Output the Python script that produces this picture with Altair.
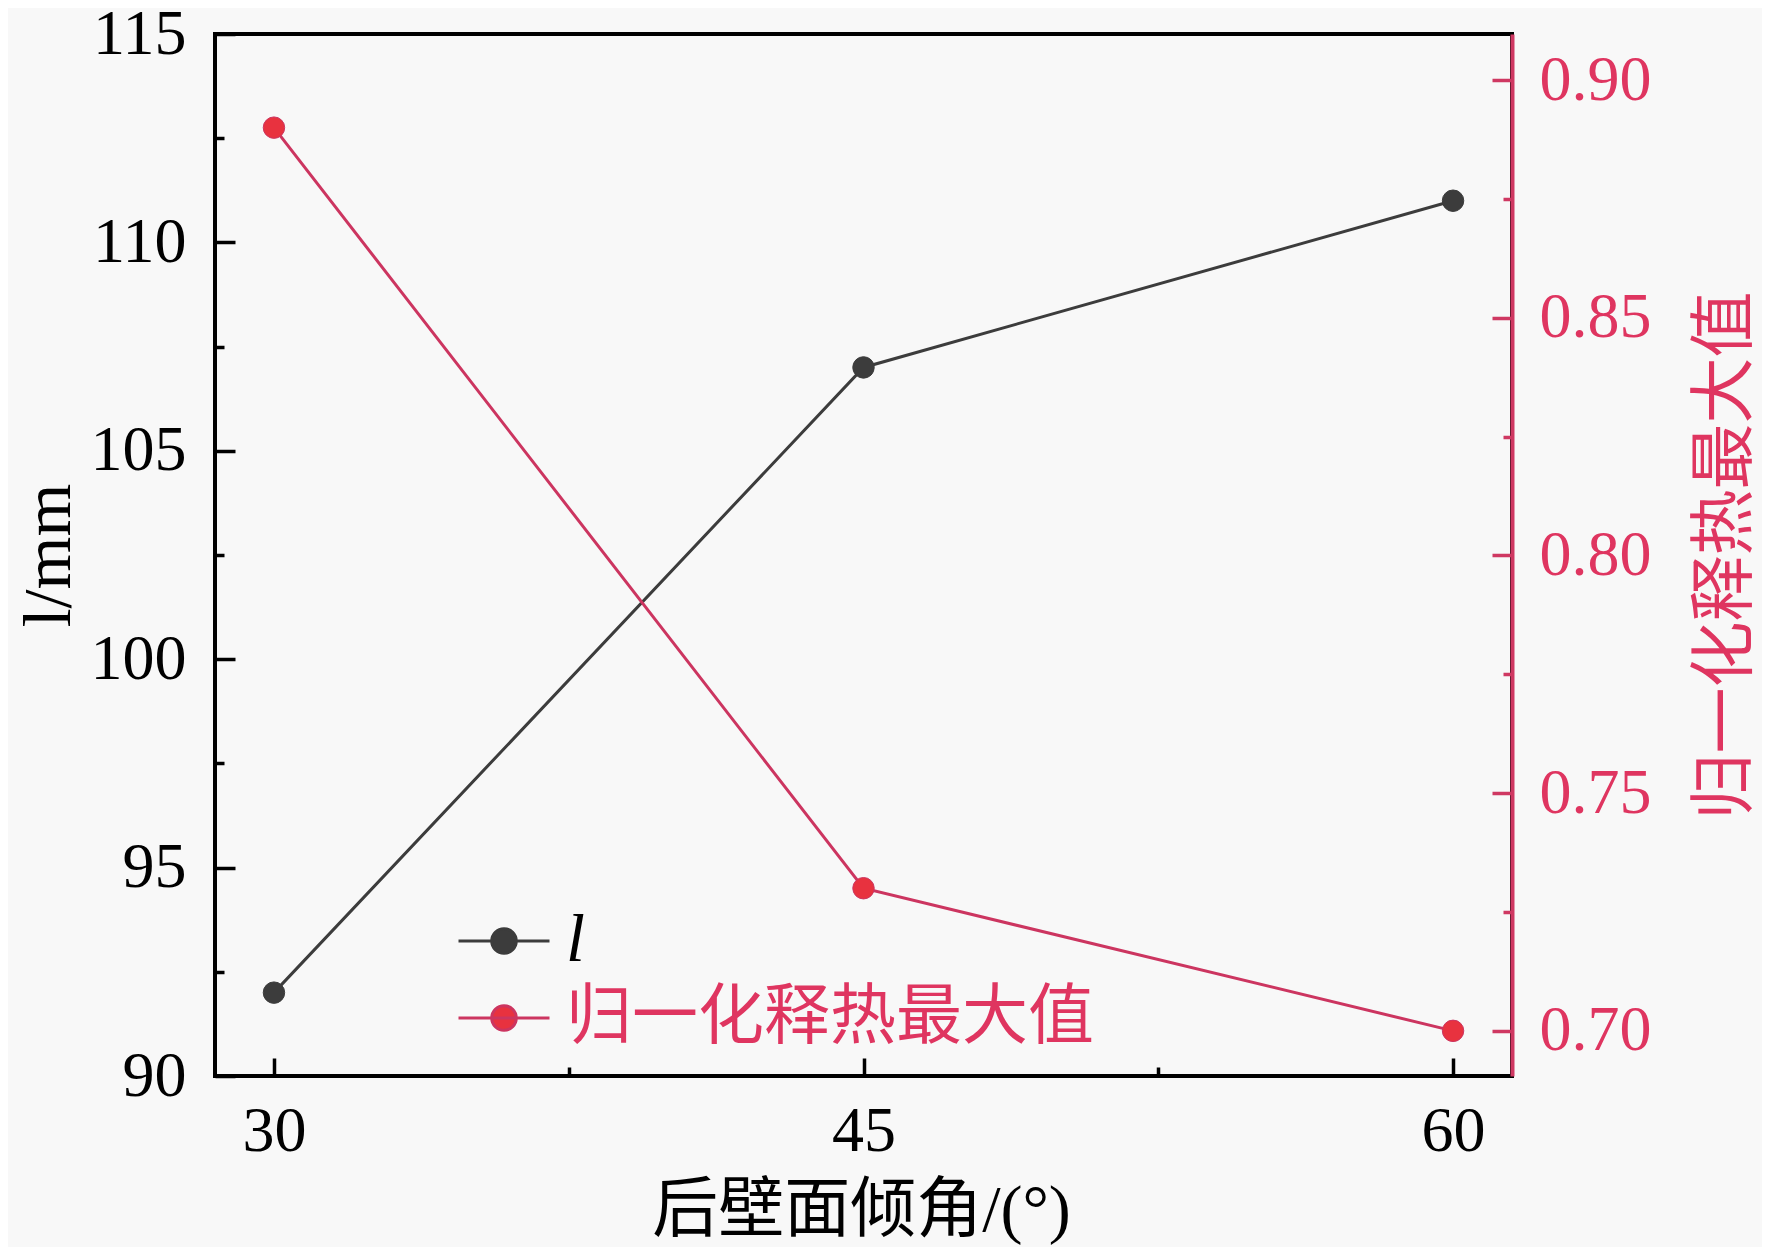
import altair as alt
import pandas as pd

# ---- data ----
angles = [30, 45, 60]
l_values = [92, 107, 111]
heat_values = [0.89, 0.73, 0.70]
l_name = "l"
heat_name = "归一化释热最大值"

x_major = [30, 45, 60]
x_minor = [37.5, 52.5]
yl_major = [90, 95, 100, 105, 110, 115]
yl_minor = [92.5, 97.5, 102.5, 107.5, 112.5]
yr_major = [0.70, 0.75, 0.80, 0.85, 0.90]
yr_minor = [0.725, 0.775, 0.825, 0.875]

x_domain = [28.5, 61.5]
yl_domain = [90, 115]
yr_domain = [0.6905, 0.9097]

x_title = "后壁面倾角/(°)"
yl_title = "l/mm"

df = pd.DataFrame({
    "angle": angles,
    "l": l_values,
    "heat": heat_values,
    "s_l": [l_name] * len(angles),
    "s_h": [heat_name] * len(angles),
})

# ---- styles ----
GRAY = "#3c3c3c"
HEAT_LINE = "#cc3560"
HEAT_PT = "#e8323f"
AXIS_R = "#cf3862"
LABEL_R = "#df3560"
FONT_NUM = "Liberation Serif"
FONT_CJK = "Liberation Serif, Noto Sans CJK SC"
W, H = 1297, 1042
MAJ, MIN = 20, 9

xs = alt.Scale(domain=x_domain, nice=False, zero=False)
yls = alt.Scale(domain=yl_domain, nice=False, zero=False)
yrs = alt.Scale(domain=yr_domain, nice=False, zero=False)

common_tick = dict(domain=False, grid=False, tickWidth=3.5)

x_major_enc = alt.X("angle:Q", scale=xs, axis=alt.Axis(
    values=x_major, orient="bottom", offset=-18, tickSize=18, tickColor="black",
    labelFont=FONT_NUM, labelFontSize=64, labelColor="black", labelPadding=23,
    labelOverlap=False, labelFlush=False,
    title=x_title, titleFont=FONT_CJK, titleFontSize=66, titleFontWeight="normal",
    titleColor="black", titleBaseline="alphabetic", titleAlign="center",
    titleX=646, titleY=172, **common_tick))
x_minor_enc = alt.X("angle:Q", scale=xs, axis=alt.Axis(
    values=x_minor, orient="bottom", offset=-MIN, tickSize=MIN, tickColor="black",
    labels=False, title=None, **common_tick))
x_none = alt.X("angle:Q", scale=xs, axis=None)

yl_major_enc = alt.Y("l:Q", scale=yls, axis=alt.Axis(
    values=yl_major, orient="left", offset=-MAJ, tickSize=MAJ, tickColor="black",
    labelFont=FONT_NUM, labelFontSize=64, labelColor="black", labelPadding=29,
    labelOverlap=False, labelFlush=False,
    title=yl_title, titleFont=FONT_NUM, titleFontSize=68, titleFontWeight="normal",
    titleColor="black", titleAngle=270, titleBaseline="middle", titleAlign="center",
    titleX=-186, titleY=H / 2, **common_tick))
yl_minor_enc = alt.Y("l:Q", scale=yls, axis=alt.Axis(
    values=yl_minor, orient="left", offset=-MIN, tickSize=MIN, tickColor="black",
    labels=False, title=None, **common_tick))

yr_major_enc = alt.Y("heat:Q", scale=yrs, axis=alt.Axis(
    values=yr_major, format=".2f", orient="right", offset=-MAJ, tickSize=MAJ,
    tickColor=AXIS_R, labelFont=FONT_NUM, labelFontSize=64, labelColor=LABEL_R,
    labelPadding=27, labelOverlap=False, labelFlush=False,
    title=heat_name, titleFont=FONT_CJK, titleFontSize=66, titleFontWeight="normal",
    titleColor=LABEL_R, titleAngle=270, titleBaseline="middle", titleAlign="center",
    titleX=233, titleY=H / 2, **common_tick))
yr_minor_enc = alt.Y("heat:Q", scale=yrs, axis=alt.Axis(
    values=yr_minor, orient="right", offset=-MIN, tickSize=MIN, tickColor=AXIS_R,
    labels=False, title=None, **common_tick))
yr_domain_enc = alt.Y("heat:Q", scale=yrs, axis=alt.Axis(
    orient="right", offset=0, domain=True, domainColor=AXIS_R, domainWidth=4,
    ticks=False, labels=False, grid=False, title=None))

SYM = "M-1,0H1M0.27,0A0.27,0.27,0,1,1,-0.27,0A0.27,0.27,0,1,1,0.27,0Z"
SYM_SIZE = 91 * 91

color_l = alt.Color("s_l:N", scale=alt.Scale(domain=[l_name], range=[GRAY]),
                    legend=alt.Legend(
                        title=None, orient="none", legendX=242, legendY=860, padding=0,
                        symbolType=SYM, symbolSize=SYM_SIZE, symbolStrokeColor=GRAY,
                        symbolStrokeWidth=3, symbolOpacity=1,
                        labelFont=FONT_NUM, labelFontStyle="italic", labelFontSize=68,
                        labelColor="black", labelOffset=15, labelLimit=1000))
color_h = alt.Color("s_h:N", scale=alt.Scale(domain=[heat_name], range=[HEAT_PT]),
                    legend=alt.Legend(
                        title=None, orient="none", legendX=242, legendY=937, padding=0,
                        symbolType=SYM, symbolSize=SYM_SIZE, symbolStrokeColor=HEAT_LINE,
                        symbolStrokeWidth=3, symbolOpacity=1,
                        labelFont=FONT_CJK, labelFontSize=66,
                        labelColor=LABEL_R, labelOffset=15, labelLimit=1000))

base = alt.Chart(df)

line_l = base.mark_line(color=GRAY, strokeWidth=3).encode(x=x_major_enc, y=yl_major_enc)
pt_l = base.mark_point(filled=True, size=460, opacity=1, stroke=GRAY, strokeWidth=1).encode(
    x=x_minor_enc, y=yl_minor_enc, color=color_l)
line_h = base.mark_line(color=HEAT_LINE, strokeWidth=3).encode(x=x_none, y=yr_major_enc)
pt_h = base.mark_point(filled=True, size=460, opacity=1, stroke=HEAT_LINE, strokeWidth=1).encode(
    x=x_none, y=yr_minor_enc, color=color_h)
ghost = base.mark_point(opacity=0).encode(x=x_none, y=yr_domain_enc)

chart = alt.layer(line_l, pt_l, line_h, pt_h, ghost).resolve_scale(
    x="independent", y="independent", color="independent"
).properties(
    width=W, height=H,
    padding={"left": 207, "top": 26, "right": 250, "bottom": 171},
    autosize=alt.AutoSizeParams(type="none"),
    background="#f8f8f8",
).configure_view(stroke="black", strokeWidth=4)

chart.save("out.html", embed_options={"renderer": "svg", "actions": False})
